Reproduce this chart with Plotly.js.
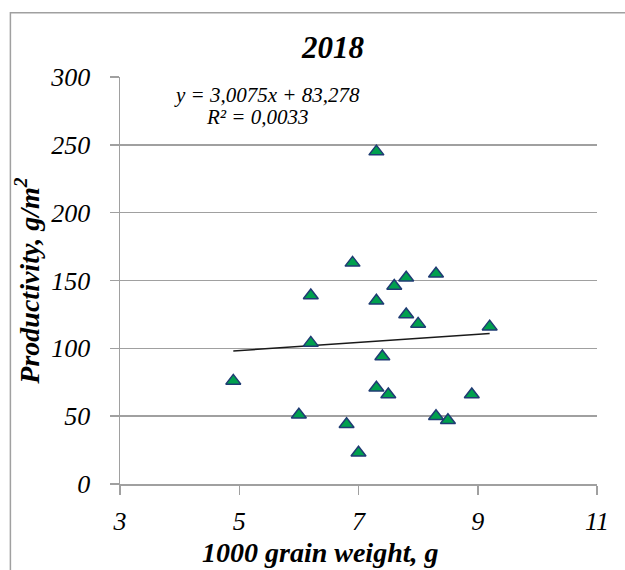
<!DOCTYPE html>
<html>
<head>
<meta charset="utf-8">
<script src="https://cdn.plot.ly/plotly-3.0.1.min.js"></script>
<style>html,body{margin:0;padding:0;background:#fff;}#chart{width:625px;height:570px;}</style>
</head>
<body>
<div id="chart"></div>
<script>
// 1000 grain weight, g
const grainWeight = [7.3, 6.9, 7.8, 7.6, 8.3, 6.2, 7.3, 7.8, 8.0, 9.2, 6.2, 7.4, 4.9, 7.3, 7.5, 8.9, 6.0, 8.3, 8.5, 6.8, 7.0];
// Productivity, g/m2
const productivity = [245, 163, 152, 146, 155, 139, 135, 125, 118, 116, 104, 94, 76, 71, 66, 66, 51, 50, 47, 44, 23];
// Linear trend (as printed on the chart)
const trendSlope = [3.0075];
const trendIntercept = [83.278];
const trendR2 = [0.0033];
const yTicks = [0, 50, 100, 150, 200, 250, 300];
const xTicks = [3, 5, 7, 9, 11];

const xMin = Math.min(...grainWeight), xMax = Math.max(...grainWeight);
const trendX = [xMin, xMax];
const trendY = trendX.map(v => trendSlope[0] * v + trendIntercept[0]);
const fmt = v => String(v).replace('.', ',');

const serif = 'Liberation Serif, Times New Roman, serif';
const gray = '#a0a0a0';

const traces = [
  {
    x: trendX, y: trendY, mode: 'lines', type: 'scatter',
    line: {color: '#1a1a1a', width: 1.5}, hoverinfo: 'skip', showlegend: false
  },
  {
    x: grainWeight, y: productivity, mode: 'markers', type: 'scatter',
    marker: {symbol: 'triangle-up', size: 13, color: '#00a04e', line: {color: '#1f3b73', width: 1.5}},
    showlegend: false
  }
];

const layout = {
  width: 625, height: 570,
  margin: {l: 119.6, r: 28.4, t: 76.6, b: 86.2},
  paper_bgcolor: '#fff', plot_bgcolor: '#fff',
  font: {family: serif, color: '#000'},
  title: {
    text: '<b><i>2018</i></b>', font: {family: serif, size: 31, color: '#000'},
    x: 333 / 625, xref: 'container', xanchor: 'center',
    y: 1 - 47 / 570, yref: 'container', yanchor: 'middle'
  },
  xaxis: {
    range: [3, 11], tickvals: xTicks, ticktext: xTicks.map(String),
    showgrid: false, zeroline: false, showline: true, linecolor: gray, linewidth: 1.5,
    ticks: 'outside', ticklen: 9, tickcolor: gray, tickwidth: 1.5,
    tickfont: {family: serif, size: 26, style: 'italic', color: '#000'},
    ticklabelstandoff: 4
  },
  yaxis: {
    range: [0, 300], tickvals: yTicks, ticktext: yTicks.map(String),
    showgrid: true, gridcolor: gray, gridwidth: 1.5,
    zeroline: false, showline: true, linecolor: gray, linewidth: 1.5,
    ticks: 'outside', ticklen: 9, tickcolor: gray, tickwidth: 1.5,
    tickfont: {family: serif, size: 26, style: 'italic', color: '#000'},
    ticklabelstandoff: 14,
    title: {text: '<b><i>Productivity, g/m<sup>2</sup></i></b>', font: {family: serif, size: 28, color: '#000'}, standoff: 2}
  },
  shapes: [{
    type: 'rect', xref: 'paper', yref: 'paper',
    x0: (10 - 119.6) / 477, x1: (640 - 119.6) / 477,
    y0: (483.8 - 590) / 407.2, y1: (483.8 - 12.3) / 407.2,
    line: {color: gray, width: 1.5}, layer: 'below'
  }],
  annotations: [
    {
      xref: 'paper', yref: 'paper', x: (320 - 119.6) / 477, y: (483.8 - 552) / 407.2,
      xanchor: 'center', yanchor: 'middle', showarrow: false,
      text: '<b><i>1000 grain weight, g</i></b>',
      font: {family: serif, size: 28, color: '#000'}
    },
    {
      xref: 'paper', yref: 'paper', x: (267 - 119.6) / 477, y: (483.8 - 95) / 407.2,
      xanchor: 'center', yanchor: 'middle', showarrow: false,
      text: '<i>y = ' + fmt(trendSlope[0]) + 'x + ' + fmt(trendIntercept[0]) + '</i>',
      font: {family: serif, size: 21, color: '#000'}
    },
    {
      xref: 'paper', yref: 'paper', x: (257 - 119.6) / 477, y: (483.8 - 117) / 407.2,
      xanchor: 'center', yanchor: 'middle', showarrow: false,
      text: '<i>R² = ' + fmt(trendR2[0]) + '</i>',
      font: {family: serif, size: 21, color: '#000'}
    }
  ]
};

Plotly.newPlot('chart', traces, layout, {displayModeBar: false, staticPlot: true});
</script>
</body>
</html>
